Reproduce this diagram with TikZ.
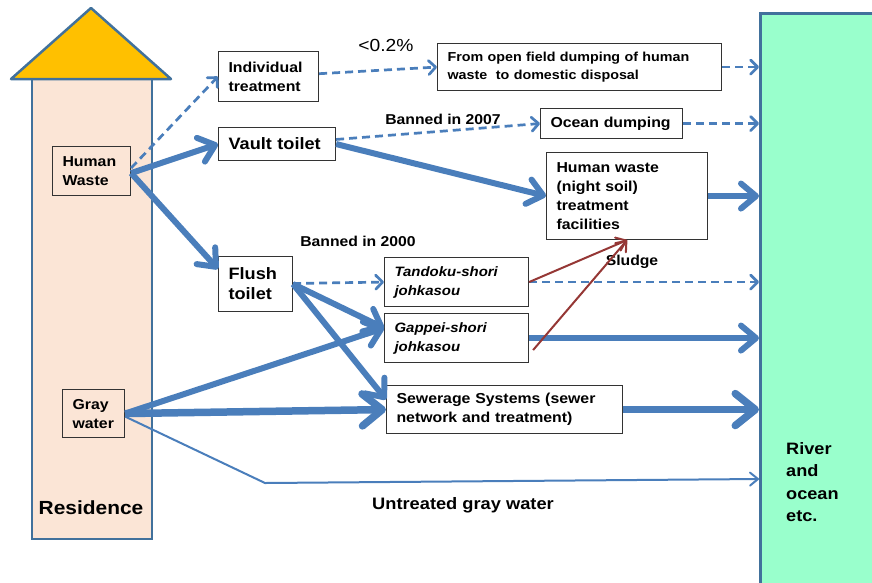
\documentclass[tikz,border=0pt]{standalone}
\usepackage{fontspec}
\setmainfont[FakeStretch=1.1]{Liberation Sans}
\usetikzlibrary{arrows.meta}
\definecolor{flowblue}{RGB}{74,126,187}
\definecolor{sludgered}{RGB}{149,55,53}
\definecolor{roofyellow}{RGB}{255,192,0}
\definecolor{wallpeach}{RGB}{251,229,214}
\definecolor{outlineblue}{RGB}{65,113,156}
\definecolor{rivergreen}{RGB}{153,255,204}
\begin{document}
\begin{tikzpicture}
[x=1pt,y=-1pt,
  boxdecorate/.style={draw=black!80,line width=1.1pt,fill=white,anchor=north west,
    inner xsep=10pt,inner ysep=2pt,align=left,
    font=\bfseries\fontsize{14.4}{19}\selectfont},
  bigdecorate/.style={font=\bfseries\fontsize{16.5}{20}\selectfont},
  italicdecorate/.style={font=\bfseries\itshape\fontsize{13.6}{19}\selectfont},
  labeldecorate/.style={font=\bfseries\fontsize{14.3}{17}\selectfont},
  dashdecorate/.style={flowblue,line width=2.7pt,dash pattern=on 8pt off 5pt,
    -{Straight Barb[length=7pt,width=14pt,round]}},
  thickdecorate/.style={flowblue,line width=6pt,
    -{Straight Barb[length=15pt,width=25pt,round]}},
  heavydecorate/.style={flowblue,line width=7.5pt,
    -{Straight Barb[length=20pt,width=32pt,round]}},
  thindecorate/.style={flowblue,line width=2pt,
    -{Straight Barb[length=8pt,width=13pt,round]}},
  sludgedecorate/.style={sludgered,line width=2pt,
    -{Straight Barb[length=9pt,width=14pt,round]}}]
\useasboundingbox (0,0) rectangle (872,582);
%% residence and river
\draw[outlineblue,line width=2.5pt,fill=wallpeach] (32,79) rectangle (152,539);
\filldraw[outlineblue,line width=2.5pt,fill=roofyellow,line join=round]
  (11,79) -- (91,8) -- (171,79) -- cycle;
\node[font=\bfseries\fontsize{19}{22}\selectfont] (residence) at (91,508) {Residence};
\node[draw=outlineblue,line width=2.5pt,fill=rivergreen,anchor=north west,
  minimum width=125pt,minimum height=580pt] (river) at (759,12) {};
\node[anchor=north west,align=left,inner sep=0pt,
  font=\bfseries\fontsize{16.5}{22.5}\selectfont] (rivertext) at (786,442)
  {River\\and\\ocean\\etc.};
%% boxes
\node[boxdecorate,fill=wallpeach,text width=58pt,minimum height=49pt] (hw) at (52,146)
  {Human\\Waste};
\node[boxdecorate,fill=wallpeach,text width=42pt,minimum height=48pt] (gw) at (62,389)
  {Gray\\water};
\node[boxdecorate,text width=80pt,minimum height=50pt] (indiv) at (218,51)
  {Individual\\treatment};
\node[boxdecorate,text width=264pt,minimum height=47pt,
  font=\bfseries\fontsize{13}{18}\selectfont] (opendump) at (437,43)
  {From open field dumping of human\\waste~ to domestic disposal};
\node[boxdecorate,bigdecorate,text width=97pt,minimum height=33pt] (vault) at (218,127)
  {Vault toilet};
\node[boxdecorate,text width=122pt,minimum height=30pt] (ocean) at (540,108)
  {Ocean dumping};
\node[boxdecorate,text width=141pt,minimum height=87pt] (nightsoil) at (546,152)
  {Human waste\\(night soil)\\treatment\\facilities};
\node[boxdecorate,bigdecorate,text width=54pt,minimum height=55pt] (flush) at (218,256)
  {Flush\\toilet};
\node[boxdecorate,italicdecorate,text width=124pt,minimum height=49pt] (tandoku) at (384,257)
  {Tandoku-shori\\johkasou};
\node[boxdecorate,italicdecorate,text width=124pt,minimum height=49pt] (gappei) at (384,313)
  {Gappei-shori\\johkasou};
\node[boxdecorate,text width=216pt,minimum height=48pt] (sewer) at (386,385)
  {Sewerage Systems (sewer\\network and treatment)};
%% labels
\node[font=\fontsize{17.5}{20}\selectfont] (share) at (386,45) {<0.2\%};
\node[labeldecorate] (banned07) at (443,119) {Banned in 2007};
\node[labeldecorate] (banned00) at (358,241) {Banned in 2000};
\node[labeldecorate] (sludge) at (632,262) {Sludge};
\node[font=\bfseries\fontsize{16.6}{20}\selectfont] (untreated) at (463,505)
  {Untreated gray water};
%% helper points
\coordinate (hwtop) at ([yshift=3pt]hw.east);
\coordinate (hwlow) at ([yshift=-2pt]hw.east);
\coordinate (flushin) at ([yshift=15pt]flush.west);
\coordinate (gappeiin) at ([yshift=10pt]gappei.west);
\coordinate (sewerin) at ([yshift=10pt]sewer.west);
\coordinate (gappeiout) at ([xshift=4pt,yshift=-12pt]gappei.east);
\coordinate (grayout) at ([yshift=-3pt]gw.east);
\coordinate (graybend) at (265,483);
\coordinate (grayend) at (759,479);
\coordinate (opendumpin) at (opendump.east -| river.west);
\coordinate (oceanin) at (ocean.east -| river.west);
\coordinate (nightsoilin) at (nightsoil.east -| river.west);
\coordinate (tandokuin) at (tandoku.east -| river.west);
\coordinate (gappeiriver) at (gappei.east -| river.west);
\coordinate (sewerout) at (sewer.east -| river.west);
%% connectors
\path
\foreach \startnode/\endnode in {hwtop/indiv, indiv/opendump, vault/ocean, flush/tandoku} {
  (\startnode) edge[dashdecorate] (\endnode.west)
};
\path
\foreach \startnode/\endnode in {opendump/opendumpin, ocean/oceanin, tandoku/tandokuin} {
  (\startnode.east) edge[dashdecorate] (\endnode)
};
\path
\foreach \startnode/\endnode in {hwlow/vault.west, hwlow/flushin, vault.east/nightsoil.west,
  flush.east/gappeiin, flush.east/sewerin, gw.east/gappeiin,
  nightsoil.east/nightsoilin, gappei.east/gappeiriver} {
  (\startnode) edge[thickdecorate] (\endnode)
};
\path
\foreach \startnode/\endnode in {gw.east/sewer.west, sewer.east/sewerout} {
  (\startnode) edge[heavydecorate] (\endnode)
};
\draw[thindecorate] (grayout) -- (graybend) -- (grayend);
\path
\foreach \startnode in {tandoku.east, gappeiout} {
  (\startnode) edge[sludgedecorate] (nightsoil.south)
};
\end{tikzpicture}
\end{document}
